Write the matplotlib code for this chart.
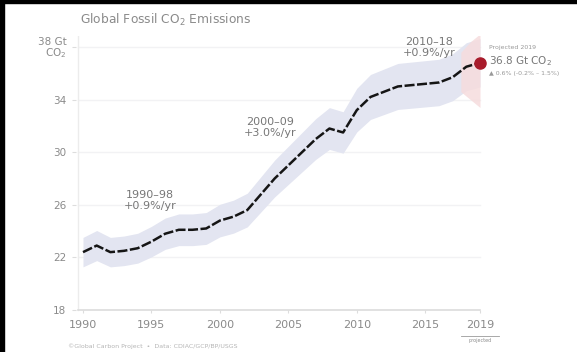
import matplotlib
matplotlib.use("Agg")
import matplotlib.pyplot as plt
from matplotlib.patches import Rectangle

# Global fossil CO2 emissions, Gt CO2 per year
years = [1990, 1991, 1992, 1993, 1994, 1995, 1996, 1997, 1998, 1999,
         2000, 2001, 2002, 2003, 2004, 2005, 2006, 2007, 2008, 2009,
         2010, 2011, 2012, 2013, 2014, 2015, 2016, 2017, 2018, 2019]
emissions = [22.4, 22.9, 22.4, 22.5, 22.7, 23.2, 23.8, 24.1, 24.1, 24.2,
             24.8, 25.1, 25.6, 26.8, 28.0, 29.0, 30.0, 31.0, 31.8, 31.5,
             33.2, 34.2, 34.6, 35.0, 35.1, 35.2, 35.3, 35.7, 36.5, 36.8]
rel_uncertainty = 0.05

proj_years = [2017.6, 2018.3, 2019]
proj_low = [34.6, 34.0, 33.4]
proj_high = [37.6, 38.4, 39.0]
proj_value = 36.8

yticks = [18, 22, 26, 30, 34, 38]
ytick_labels = ["18", "22", "26", "30", "34", "38 Gt\nCO$_2$"]
xticks = [1990, 1995, 2000, 2005, 2010, 2015, 2019]
xtick_labels = ["1990", "1995", "2000", "2005", "2010", "2015", "2019"]

period_labels = [
    (1994.9, 26.35, "1990–98\n+0.9%/yr"),
    (2003.7, 31.85, "2000–09\n+3.0%/yr"),
    (2015.3, 37.95, "2010–18\n+0.9%/yr"),
]

W, H = 577, 352
fig = plt.figure(figsize=(W / 100, H / 100), dpi=100)
fig.patch.set_facecolor("white")

# axes placement in pixels
px_per_yr = 13.69
px_per_gt = 13.15
x0, x1 = 1989.5, 2019.5
y0, y1 = 17.8, 38.8
left_px = 83 - (1990 - x0) * px_per_yr
right_px = left_px + (x1 - x0) * px_per_yr
bottom_px = 310 + (18 - y0) * px_per_gt
top_px = bottom_px - (y1 - y0) * px_per_gt
ax = fig.add_axes([left_px / W, 1 - bottom_px / H,
                   (right_px - left_px) / W, (bottom_px - top_px) / H])
ax.set_xlim(x0, x1)
ax.set_ylim(y0, y1)
for s in ax.spines.values():
    s.set_visible(False)

grey_txt = "#8a8a8a"

# faint grid lines
for yt in yticks[1:]:
    ax.plot([1989.6, 2019], [yt, yt], color="#f2f2f4", lw=1.0, zorder=0)
ax.plot([1989.6, 2019], [18, 18], color="#dcdcdc", lw=1.2, zorder=1)
ax.plot([1989.6, 1989.6], [18, 38.8], color="#ececec", lw=1.0, zorder=0)

lower = [v * (1 - rel_uncertainty) for v in emissions]
upper = [v * (1 + rel_uncertainty) for v in emissions]
ax.fill_between(years, lower, upper, color="#e3e5f1", lw=0, zorder=1)
ax.fill_between(proj_years, proj_low, proj_high, color="#f6dcdd", lw=0,
                alpha=0.85, zorder=2)

ax.plot(years, emissions, color="#151515", lw=1.8, dashes=(4, 1.0),
        solid_capstyle="butt", zorder=3)
ax.plot([years[-1]], [proj_value], "o", color="#a81b2b", ms=8, zorder=4)

ax.set_yticks(yticks)
ax.set_yticklabels(ytick_labels, fontsize=7.5, color=grey_txt,
                   linespacing=0.9)
ax.set_xticks(xticks)
ax.set_xticklabels(xtick_labels, fontsize=8, color=grey_txt)
ax.tick_params(axis="y", length=3, color="#dddddd", pad=4)
ax.tick_params(axis="x", length=2, color="#dddddd", pad=5,
               direction="in")

# "projected" note under the last year
ax.plot([2017.6, 2020.4], [16.05, 16.05], color="#9a9a9a", lw=0.6,
        clip_on=False)
ax.text(2019, 15.7, "projected", fontsize=3.5, color=grey_txt,
        ha="center", va="center", clip_on=False)

for x, y, txt in period_labels:
    ax.text(x, y, txt, fontsize=8, color="#777777", ha="center",
            va="center", linespacing=1.15)

fig.text(80 / W, 1 - 20 / H, "Global Fossil CO$_2$ Emissions", fontsize=8.8,
         color=grey_txt, va="center", ha="left")

fig.text(489 / W, 1 - 47 / H, "Projected 2019", fontsize=4.5,
         color="#999999", va="center", ha="left")
fig.text(489 / W, 1 - 61 / H, "36.8 Gt CO$_2$", fontsize=7.5,
         color="#777777", va="center", ha="left")
fig.text(489 / W, 1 - 73 / H, "▲ 0.6% (-0.2% – 1.5%)", fontsize=4.5,
         color="#999999", va="center", ha="left")

fig.text(68 / W, 1 - 346 / H,
         "©Global Carbon Project  •  Data: CDIAC/GCP/BP/USGS",
         fontsize=4.5, color="#b5b5b5", va="center", ha="left")

# frame edges
fig.patches.append(Rectangle((0, 0), 4 / W, 1, transform=fig.transFigure,
                             color="black", zorder=10))
fig.patches.append(Rectangle((0, 1 - 3 / H), 1, 3 / H,
                             transform=fig.transFigure, color="black",
                             zorder=10))

fig.savefig("out.png", dpi=100)
